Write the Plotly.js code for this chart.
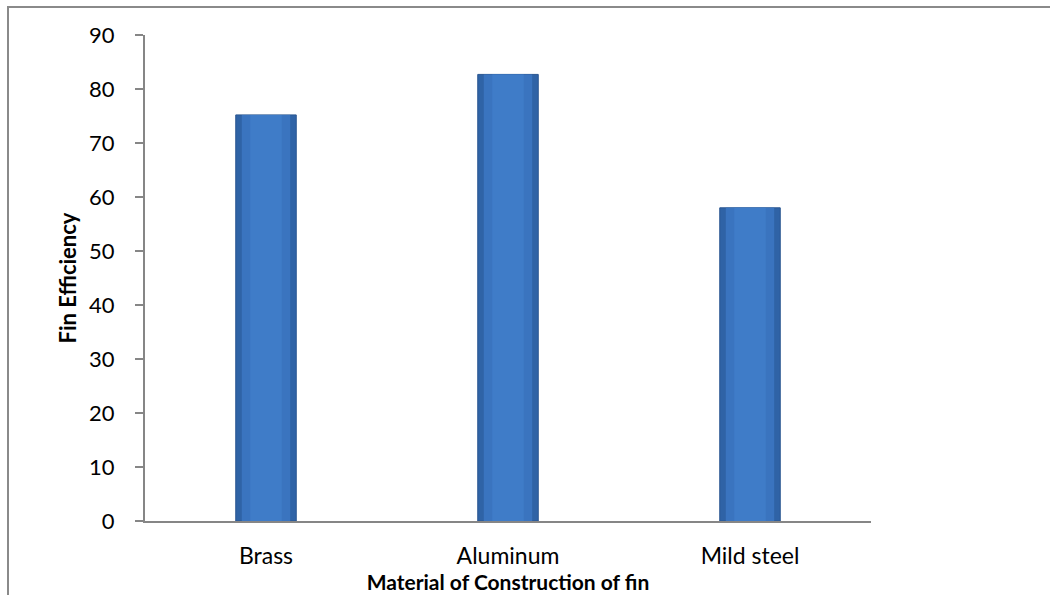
<!DOCTYPE html>
<html>
<head>
<meta charset="utf-8">
<script src="https://cdn.plot.ly/plotly-3.0.1.min.js"></script>
<style>
  body { margin: 0; background: #fff; }
  #wrap { position: relative; width: 1050px; height: 595px; overflow: hidden; }
  #chart { width: 1050px; height: 595px; }
  #frame { position: absolute; left: 7px; top: 6px; width: 1100px; height: 700px;
           border-left: 2px solid #8a8a8a; border-top: 2px solid #8a8a8a; pointer-events: none; }
</style>
</head>
<body>
<div id="wrap">
  <div id="chart"></div>
  <div id="frame"></div>
</div>
<script>
const categories = ["Brass", "Aluminum", "Mild steel"];
const efficiency = [75.2, 82.7, 58.0];
const yTicks = [0, 10, 20, 30, 40, 50, 60, 70, 80, 90];

const font = "Lato, 'Open Sans', sans-serif";

const traces = [
  {
    type: "bar", x: categories, y: efficiency, width: 0.25,
    marker: { color: "#2f63a6", line: { color: "#2a5690", width: 1 } },
    hoverinfo: "x+y", showlegend: false
  },
  {
    type: "bar", x: categories, y: efficiency, width: 0.2,
    marker: { color: "#3a74bf", line: { width: 0 } },
    hoverinfo: "skip", showlegend: false
  },
  {
    type: "bar", x: categories, y: efficiency, width: 0.13,
    marker: { color: "#3f7cc8", line: { width: 0 } },
    hoverinfo: "skip", showlegend: false
  }
];

const layout = {
  width: 1050, height: 595,
  margin: { l: 145, r: 179, t: 34.5, b: 74 },
  paper_bgcolor: "#ffffff", plot_bgcolor: "#ffffff",
  barmode: "overlay",
  font: { family: font, color: "#000", size: 22 },
  xaxis: {
    type: "category",
    showline: true, linecolor: "#868686", linewidth: 2,
    ticks: "", showgrid: false, zeroline: false,
    tickfont: { family: font, size: 23, color: "#000" },
    ticklabelstandoff: 13,
    title: { text: "<b>Material of Construction of fin</b>", font: { family: font, size: 21, color: "#000" }, standoff: 0 }
  },
  yaxis: {
    range: [0, 90], tickvals: yTicks,
    showline: true, linecolor: "#868686", linewidth: 2,
    ticks: "outside", ticklen: 8, tickcolor: "#868686", tickwidth: 2,
    showgrid: false, zeroline: false,
    tickfont: { family: font, size: 22, color: "#000" },
    ticklabelstandoff: 16,
    title: { text: "<b>Fin Efficiency</b>", font: { family: font, size: 22, color: "#000" }, standoff: 6 }
  }
};

Plotly.newPlot("chart", traces, layout, { displayModeBar: false, staticPlot: true });
</script>
</body>
</html>
